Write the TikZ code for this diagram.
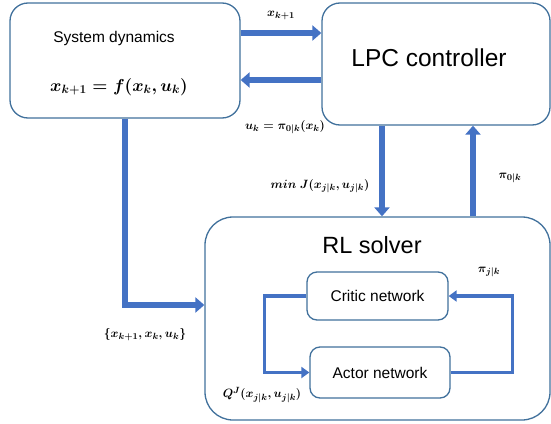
\documentclass[tikz,border=0pt]{standalone}
\usepackage{amsmath}
\usepackage{fontspec}
\setmainfont{Liberation Sans}
\usetikzlibrary{arrows.meta}
\definecolor{flowblue}{HTML}{4472C4}
\definecolor{edgeblue}{HTML}{41719C}

\begin{document}
\begin{tikzpicture}[x=1pt, y=-1pt,
        block/.style={draw=edgeblue, line width=1.3pt, fill=white, rounded corners=#1},
        block/.default=18pt,
        flow/.style={draw=flowblue, line width=5.5pt, -{Triangle[length=9pt, width=15pt]}},
        innerflow/.style={draw=flowblue, line width=3.5pt, -{Triangle[length=8pt, width=11pt]}},
        lbl/.style={font=\fontsize{12.5}{15}\selectfont\boldmath, inner sep=1pt}]
            \useasboundingbox (0, 0) rectangle (551, 423);

            % the three main blocks
            \node[block, minimum width=230pt, minimum height=115pt] (sd) at (125, 60.5) {};
            \node[block, minimum width=228pt, minimum height=122pt] (lpc) at (436, 64) {};
            \node[block=28pt, minimum width=345pt, minimum height=203pt] (rl) at (377.5, 318.5) {};

            \node[font=\fontsize{15.5}{18}\selectfont] (sdtitle) at (114, 38) {System dynamics};
            \node[font=\fontsize{17}{20}\selectfont] (sdeq) at (119, 87) {$\boldsymbol{x_{k+1} = f(x_k, u_k)}$};
            \node[font=\fontsize{24.5}{28}\selectfont] (lpctitle) at (429, 58) {LPC controller};
            \node[font=\fontsize{23.5}{27}\selectfont] (rltitle) at (372, 245) {RL solver};

            % networks inside the solver
            \node[block=10pt, minimum width=141pt, minimum height=48pt, font=\fontsize{15.5}{18}\selectfont] (critic) at (377.5, 296) {Critic network};
            \node[block=10pt, minimum width=140pt, minimum height=51pt, font=\fontsize{15.5}{18}\selectfont] (actor) at (380, 372.5) {Actor network};

            % connectors
            \draw[flow] ([yshift=27.5pt]sd.east) coordinate (xout) -- (xout -| lpc.west);     % state to controller
            \draw[flow] ([yshift=-16pt]lpc.west) coordinate (uout) -- (uout -| sd.east);      % input to system
            \draw[flow] ([xshift=-54pt]lpc.south) coordinate (jout) -- (jout |- rl.north);    % cost to solver
            \draw[flow] ([xshift=95.5pt]rl.north) coordinate (piout) -- (piout |- lpc.south); % policy to controller
            \draw[flow] (sd.south) |- ([yshift=13.5pt]rl.west);                                % data to solver
            \draw[innerflow] (critic.west) -- ++(-42, 0) |- (actor.west);                      % critic to actor
            \draw[innerflow] (actor.east) -- ++(62, 0) |- (critic.east);                       % actor to critic

            % labels
            \node[lbl] (xlbl) at (281, 15) {$x_{k+1}$};
            \node[lbl] (ulbl) at (285, 127) {$u_k = \pi_{0|k}(x_k)$};
            \node[lbl] (jlbl) at (320, 186) {$min\ J(x_{j|k}, u_{j|k})$};
            \node[lbl] (pilbl) at (510, 178) {$\pi_{0|k}$};
            \node[lbl] (setlbl) at (145, 335) {$\{x_{k+1}, x_k, u_k\}$};
            \node[lbl] (qlbl) at (262, 395) {$Q^J(x_{j|k}, u_{j|k})$};
            \node[lbl] (pijlbl) at (489, 272) {$\pi_{j|k}$};
        \end{tikzpicture}
\end{document}
